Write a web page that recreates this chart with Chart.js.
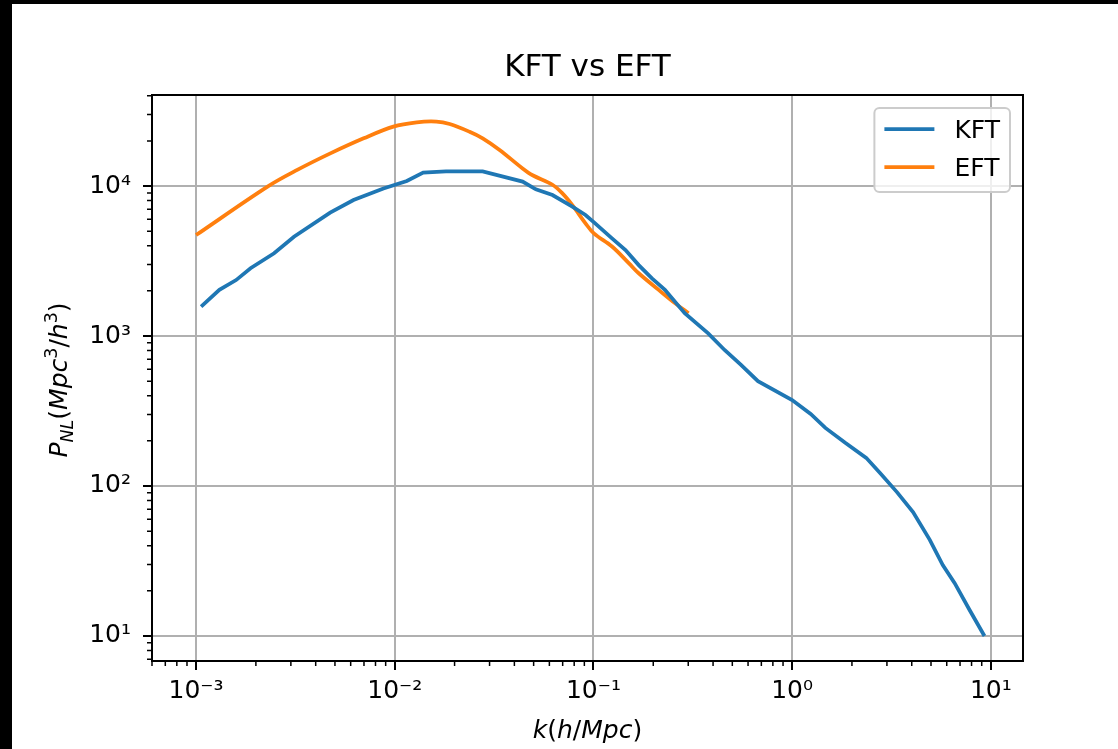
<!DOCTYPE html>
<html>
<head>
<meta charset="utf-8">
<script src="https://cdn.jsdelivr.net/npm/chart.js@4.4.0/dist/chart.umd.min.js"></script>
<style>
  html, body { margin: 0; padding: 0; background: #000; }
  body { width: 1118px; height: 749px; overflow: hidden; position: relative; }
  #wrap { position: absolute; left: 12px; top: 4px; width: 1106px; height: 745px; background: #fff; }
</style>
</head>
<body>
<div id="wrap"><canvas id="pk"></canvas></div>
<script>
// KFT power spectrum, k in h/Mpc, P in Mpc^3/h^3
const kKFT = [0.00106, 0.00131, 0.00159, 0.00188, 0.00247, 0.00311, 0.00473, 0.0062, 0.00877, 0.0115,
  0.0139, 0.0181, 0.0277, 0.044, 0.0513, 0.0622, 0.0783, 0.0912, 0.102, 0.124,
  0.145, 0.169, 0.197, 0.229, 0.288, 0.378, 0.457, 0.553, 0.673, 1.0,
  1.24, 1.47, 1.85, 2.36, 2.77, 3.37, 4.06, 4.93, 5.73, 6.58, 7.82, 9.29];
const pKFT = [1570, 2030, 2360, 2830, 3560, 4590, 6640, 8070, 9640, 10800,
  12300, 12500, 12500, 10700, 9510, 8710, 7280, 6410, 5640, 4480,
  3740, 2970, 2420, 2030, 1420, 1040, 807, 641, 500, 374,
  302, 244, 194, 154, 122, 91, 67, 43.7, 29.7, 22.5, 14.9, 10];

// EFT power spectrum
const kEFT = [0.001, 0.00229, 0.00323, 0.00474, 0.00697, 0.00984, 0.0129, 0.0162, 0.0189, 0.0238,
  0.0277, 0.0337, 0.044, 0.0494, 0.0622, 0.0698, 0.0783, 0.0912, 0.1005, 0.124,
  0.151, 0.169, 0.213, 0.258, 0.301];
const pEFT = [4710, 9910, 12800, 16500, 20800, 24900, 26600, 26900, 25900, 23000,
  20800, 17400, 13100, 11800, 10200, 8930, 7460, 5640, 4830, 3950,
  3050, 2620, 2030, 1650, 1420];

const xTicks = [1e-3, 1e-2, 1e-1, 1, 10];
const yTicks = [1e1, 1e2, 1e3, 1e4];

const FONT = '"DejaVu Sans", "Liberation Sans", sans-serif';
const SUP = { '-': '\u207B', '0': '\u2070', '1': '\u00B9', '2': '\u00B2', '3': '\u00B3',
  '4': '\u2074', '5': '\u2075', '6': '\u2076', '7': '\u2077', '8': '\u2078', '9': '\u2079' };

function powLabel(v) {
  const e = Math.round(Math.log10(v));
  return '10' + String(e).split('').map(c => SUP[c]).join('');
}

// draws text runs with italic / sub / superscript pieces, centred on x
function drawRich(ctx, runs, x, y, size) {
  const fontFor = r => `${r.it ? 'italic ' : ''}${r.s ? size * 0.7 : size}px ${FONT}`;
  let w = 0;
  runs.forEach(r => { ctx.font = fontFor(r); r.w = ctx.measureText(r.t).width; w += r.w; });
  let cx = x - w / 2;
  ctx.textAlign = 'left';
  ctx.textBaseline = 'alphabetic';
  runs.forEach(r => {
    ctx.font = fontFor(r);
    ctx.fillText(r.t, cx, y + (r.dy || 0) * size);
    cx += r.w;
  });
}

const xTitle = [{ t: 'k', it: 1 }, { t: '(' }, { t: 'h', it: 1 }, { t: '/' }, { t: 'Mpc', it: 1 }, { t: ')' }];
const yTitle = [{ t: 'P', it: 1 }, { t: 'NL', it: 1, s: 1, dy: 0.22 }, { t: '(' }, { t: 'Mpc', it: 1 },
  { t: '3', s: 1, dy: -0.42 }, { t: '/' }, { t: 'h', it: 1 }, { t: '3', s: 1, dy: -0.42 }, { t: ')' }];

const decor = {
  id: 'decor',
  afterDatasetsDraw(chart) {
    const { ctx, chartArea: a, scales: { x, y } } = chart;
    ctx.save();
    ctx.strokeStyle = '#000';
    // minor ticks
    ctx.lineWidth = 1.5;
    ctx.beginPath();
    for (let e = -4; e <= 4; e++) {
      for (let m = 2; m <= 9; m++) {
        const v = m * Math.pow(10, e);
        if (v > x.min && v < x.max) {
          const px = x.getPixelForValue(v);
          ctx.moveTo(px, a.bottom); ctx.lineTo(px, a.bottom + 5);
        }
        if (v > y.min && v <= y.max * 1.001) {
          const py = y.getPixelForValue(v);
          ctx.moveTo(a.left, py); ctx.lineTo(a.left - 5, py);
        }
      }
    }
    ctx.stroke();
    // spines
    ctx.lineWidth = 2;
    ctx.strokeRect(a.left, a.top, a.right - a.left, a.bottom - a.top);
    // axis titles
    ctx.fillStyle = '#000';
    drawRich(ctx, xTitle, (a.left + a.right) / 2, a.bottom + 77, 25);
    ctx.save();
    ctx.translate(a.left - 85, (a.top + a.bottom) / 2 + 2);
    ctx.rotate(-Math.PI / 2);
    drawRich(ctx, yTitle, 0, 0, 25);
    ctx.restore();
    ctx.restore();
  },
  afterDraw(chart) {
    const { ctx, chartArea: a } = chart;
    const fs = 25;
    ctx.save();
    ctx.font = `${fs}px ${FONT}`;
    const sets = chart.data.datasets;
    const tw = Math.max(...sets.map(d => ctx.measureText(d.label).width));
    const w = 10 + 50 + 20 + tw + 10;
    const h = 84;
    const right = a.right - 13, top = a.top + 13;
    const left = right - w;
    const r = 5;
    ctx.beginPath();
    ctx.moveTo(left + r, top);
    ctx.arcTo(right, top, right, top + h, r);
    ctx.arcTo(right, top + h, left, top + h, r);
    ctx.arcTo(left, top + h, left, top, r);
    ctx.arcTo(left, top, right, top, r);
    ctx.closePath();
    ctx.fillStyle = 'rgba(255,255,255,0.8)';
    ctx.fill();
    ctx.strokeStyle = '#cccccc';
    ctx.lineWidth = 2;
    ctx.stroke();
    sets.forEach((d, i) => {
      const cy = top + 21 + i * 38;
      ctx.strokeStyle = d.borderColor;
      ctx.lineWidth = 3.75;
      ctx.beginPath();
      ctx.moveTo(left + 10, cy); ctx.lineTo(left + 60, cy);
      ctx.stroke();
      ctx.fillStyle = '#000';
      ctx.textAlign = 'left';
      ctx.textBaseline = 'alphabetic';
      ctx.fillText(d.label, left + 80, cy + 9);
    });
    ctx.restore();
  }
};

new Chart(document.getElementById('pk'), {
  type: 'line',
  data: {
    datasets: [
      {
        label: 'KFT',
        data: kKFT.map((k, i) => ({ x: k, y: pKFT[i] })),
        borderColor: '#1f77b4',
        borderWidth: 3.75,
        pointRadius: 0,
        tension: 0,
        fill: false
      },
      {
        label: 'EFT',
        data: kEFT.map((k, i) => ({ x: k, y: pEFT[i] })),
        borderColor: '#ff7f0e',
        borderWidth: 3.75,
        pointRadius: 0,
        tension: 0.35,
        fill: false
      }
    ]
  },
  options: {
    responsive: true,
    maintainAspectRatio: false,
    animation: false,
    devicePixelRatio: 1,
    layout: { padding: { left: 30, right: 95, top: 0, bottom: 18 } },
    plugins: {
      legend: { display: false },
      tooltip: { enabled: false },
      title: {
        display: true,
        text: 'KFT vs EFT',
        fullSize: false,
        color: '#000',
        font: { family: FONT, size: 31, weight: 'normal', lineHeight: 1 },
        padding: { top: 48, bottom: 12 }
      }
    },
    scales: {
      x: {
        type: 'logarithmic',
        min: Math.pow(10, -3.2),
        max: Math.pow(10, 1.162),
        afterBuildTicks: s => { s.ticks = xTicks.map(v => ({ value: v, major: true })); },
        afterFit: s => { s.height = 70; },
        grid: { color: '#b0b0b0', lineWidth: 2, drawTicks: true, tickLength: 9, tickColor: '#000', tickWidth: 2 },
        border: { display: true, color: '#000', width: 2 },
        ticks: {
          autoSkip: false, maxRotation: 0, padding: 6, color: '#000',
          font: { family: FONT, size: 25 },
          callback: v => powLabel(v)
        }
      },
      y: {
        type: 'logarithmic',
        min: Math.pow(10, 0.833),
        max: Math.pow(10, 4.607),
        afterBuildTicks: s => { s.ticks = yTicks.map(v => ({ value: v, major: true })); },
        afterFit: s => { s.width = 110; },
        grid: { color: '#b0b0b0', lineWidth: 2, drawTicks: true, tickLength: 9, tickColor: '#000', tickWidth: 2 },
        border: { display: true, color: '#000', width: 2 },
        ticks: {
          autoSkip: false, padding: 12, color: '#000',
          font: { family: FONT, size: 25 },
          callback: v => powLabel(v)
        }
      }
    }
  },
  plugins: [decor]
});
</script>
</body>
</html>
